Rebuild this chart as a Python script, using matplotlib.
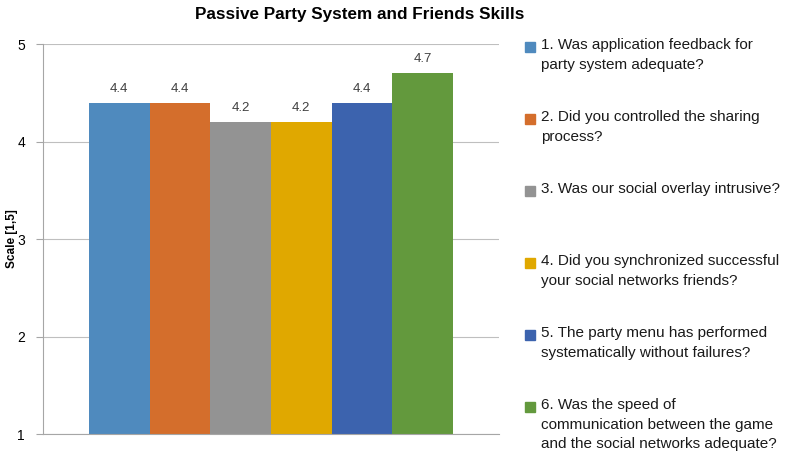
import matplotlib.pyplot as plt
from matplotlib.patches import Rectangle

title = "Passive Party System and Friends Skills"
ylabel = "Scale [1,5]"
questions = [
    "1. Was application feedback for\nparty system adequate?",
    "2. Did you controlled the sharing\nprocess?",
    "3. Was our social overlay intrusive?",
    "4. Did you synchronized successful\nyour social networks friends?",
    "5. The party menu has performed\nsystematically without failures?",
    "6. Was the speed of\ncommunication between the game\nand the social networks adequate?",
]
scores = [4.4, 4.4, 4.2, 4.2, 4.4, 4.7]
colors = ["#4F8ABE", "#D46E2C", "#939393", "#E0A800", "#3C63AE", "#63993D"]
yticks = [1, 2, 3, 4, 5]

plt.rcParams['font.family'] = ['Liberation Sans', 'DejaVu Sans']

fig = plt.figure(figsize=(7.91, 4.59), dpi=100)
W, H = 791, 459
ax = fig.add_axes([43 / W, 1 - 434 / H, (499 - 43) / W, (434 - 44) / H])

pos = list(range(len(scores)))
ax.bar(pos, [s - 1 for s in scores], bottom=1, width=1.0, color=colors, zorder=2)
for x, s in zip(pos, scores):
    ax.text(x, s + 0.08, f"{s}", ha='center', va='bottom', fontsize=9.5, color='#404040')

ax.set_xlim(-1.254, 6.254)
ax.set_ylim(1, 5)
ax.set_yticks(yticks)
ax.set_xticks([])
ax.grid(axis='y', color='#BFBFBF', linewidth=0.8, zorder=0)
for side in ['top', 'right']:
    ax.spines[side].set_visible(False)
ax.spines['left'].set_color('#A6A6A6')
ax.spines['bottom'].set_color('#A6A6A6')
ax.tick_params(axis='y', length=5, color='#A6A6A6', labelsize=10, pad=8)
fig.text(12 / W, 1 - 239 / H, ylabel, rotation=90, ha='center', va='center',
         fontsize=8.5, fontweight='bold')
fig.text(360 / W, 1 - 15 / H, title, ha='center', va='center', fontsize=12.3, fontweight='bold')

# legend drawn by hand so each entry sits in its own fixed slot
for i, (q, c) in enumerate(zip(questions, colors)):
    yc = 47 + 72 * i
    fig.patches.append(Rectangle((525 / W, 1 - (yc + 5) / H), 10 / W, 10 / H,
                                 transform=fig.transFigure, color=c))
    fig.text(541 / W, 1 - (yc - 9) / H, q, ha='left', va='top', fontsize=11,
             linespacing=1.5, color='#1a1a1a')

fig.savefig("out.png", dpi=100)
